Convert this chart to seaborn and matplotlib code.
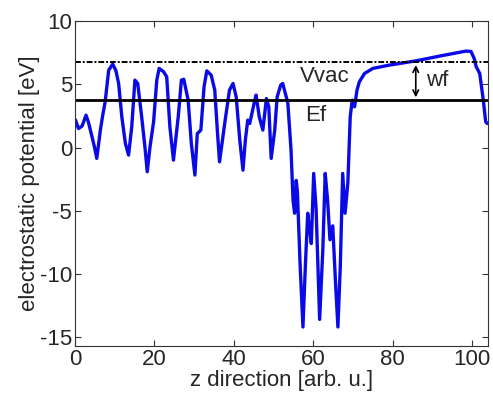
import numpy as np
import pandas as pd
import matplotlib
matplotlib.use('Agg')
import matplotlib.pyplot as plt
import seaborn as sns

# 값은 그림에서 읽은 것 (z 방향, 정전기 퍼텐셜)
z = [0.1, 0.9, 1.8, 2.8, 3.4, 4.3, 4.9, 5.5, 6.4, 7.0, 7.6, 8.5, 9.5, 10.3, 11.0,
     11.8, 12.7, 13.5, 14.3, 15.1, 15.8, 16.8, 17.7, 18.2, 18.9, 19.8, 20.6, 21.2,
     22.3, 23.1, 23.9, 24.8, 26.0, 26.8, 27.4, 28.5, 29.3, 30.2, 30.8, 31.7, 32.5,
     33.2, 34.3, 35.2, 35.9, 36.4, 37.7, 38.9, 39.8, 40.6, 41.5, 42.3, 42.9, 43.5,
     44.0, 45.1, 45.6, 46.4, 47.3, 48.2, 48.8, 49.4, 50.3, 50.9, 51.8, 52.3, 53.2,
     53.6, 54.4, 54.9, 55.3, 55.7, 56.0, 56.7, 57.4, 58.0, 58.6, 59.0, 59.5, 60.1,
     60.7, 61.6, 62.4, 63.0, 63.6, 64.2, 64.9, 65.6, 66.2, 66.8, 67.4, 68.0, 68.7,
     69.3, 69.8, 70.4, 71.0, 71.6, 72.9, 75.0, 79.1, 85.9, 91.7, 98.4, 99.7, 100.5,
     101.0, 101.9, 102.8, 103.4, 103.8]
pot = [2.2, 1.5, 1.7, 2.56, 2.0, 0.85, 0.06, -0.86, 1.38, 2.56, 3.6, 6.12, 6.6, 6.1, 5.07,
       2.43, 0.32, -0.6, 1.64, 5.33, 5.07, 2.43, -0.2, -1.92, 0.06, 2.03, 5.33, 6.26,
       6.0, 5.6, 1.64, -1.0, 2.43, 5.33, 5.4, 3.75, 0.32, -2.18, 1.1, 1.38, 4.8,
       6.07, 5.73, 4.54, 1.1, -1.13, 1.9, 4.54, 5.07, 4.0, 0.58, -1.79, 0.58, 2.17,
       1.9, 3.49, 4.15, 2.43, 1.38, 3.88, 3.22, -0.86, 1.38, 4.0, 4.94, 5.07, 4.0,
       3.5, -0.2, -4.16, -5.2, -2.6, -3.5, -9.4, -14.2, -9.4, -5.2, -6.3, -7.6, -2.05,
       -4.8, -13.6, -8.1, -2.05, -4.16, -7.3, -6.2, -10.7, -14.2, -9.4, -2.05, -5.2, -2.8,
       2.43, 3.75, 3.22, 4.54, 5.2, 5.86, 6.26, 6.52, 6.86, 7.23, 7.63, 7.6, 7.05,
       6.4, 5.86, 3.75, 2.03, 1.9]
Ef = 3.75
Vvac = 6.75
wf_x = 85.8

sns.set_style('ticks')
plt.rcParams['font.family'] = ['Liberation Sans', 'DejaVu Sans']
plt.rcParams['axes.unicode_minus'] = False
plt.rcParams['xtick.direction'] = 'in'
plt.rcParams['ytick.direction'] = 'in'

df = pd.DataFrame({'z': z, 'pot': pot})

fig = plt.figure(figsize=(4.93, 3.99), dpi=100)
ax = fig.add_axes([0.152, 0.133, 0.838, 0.814])

sns.lineplot(data=df, x='z', y='pot', color='#0a0ae6', linewidth=2.4, ax=ax)
ax.axhline(Ef, color='black', linewidth=2)
ax.axhline(Vvac, color='black', linewidth=1.4, linestyle=(0, (3, 1, 1, 1)))
ax.annotate('', xy=(wf_x, Ef), xytext=(wf_x, Vvac),
            arrowprops=dict(arrowstyle='<->', color='black', lw=1.2))
ax.text(62.8, 5.6, 'Vvac', fontsize=16, ha='center', va='center')
ax.text(60.7, 2.5, 'Ef', fontsize=16, ha='center', va='center')
ax.text(91.2, 5.3, 'wf', fontsize=16, ha='center', va='center')

ax.set_xlim(0, 104)
ax.set_ylim(-15.7, 10)
ax.set_xticks([0, 20, 40, 60, 80, 100])
ax.set_yticks([-15, -10, -5, 0, 5, 10])
ax.tick_params(labelsize=16, top=True, right=True, length=4, color='#333333', pad=2)
for s in ax.spines.values():
    s.set_color('#333333')
    s.set_visible(True)
ax.set_xlabel('z direction [arb. u.]', fontsize=16, labelpad=0)
ax.set_ylabel('electrostatic potential [eV]', fontsize=16, labelpad=0)

plt.savefig('out.png', dpi=100)
